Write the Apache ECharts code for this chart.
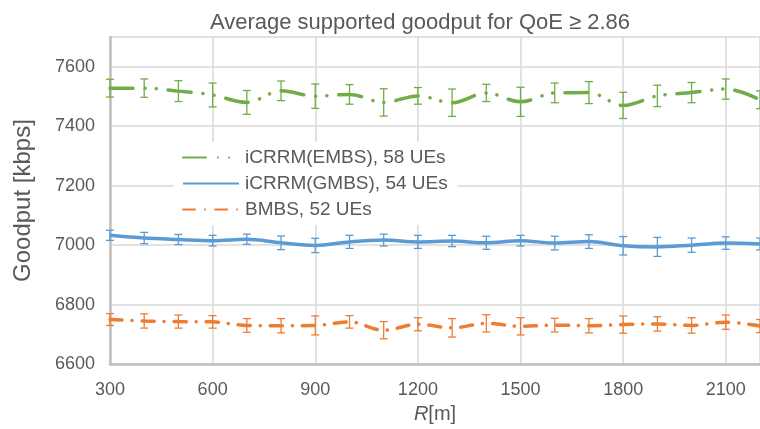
<!DOCTYPE html>
<html>
<head>
<meta charset="utf-8">
<script src="https://cdn.jsdelivr.net/npm/echarts@6/dist/echarts.min.js"></script>
<style>
  html, body { margin: 0; padding: 0; background: #fff; }
  #chart { width: 760px; height: 429px; }
</style>
</head>
<body>
<div id="chart"></div>
<script>
// Cell radius R in metres
const distances = [300, 400, 500, 600, 700, 800, 900, 1000, 1100, 1200, 1300, 1400, 1500, 1600, 1700, 1800, 1900, 2000, 2100, 2200];

// Average goodput [kbps] and its confidence half-width for each scheme
const embsGoodput = [7528, 7528, 7518, 7505, 7480, 7519, 7501, 7507, 7480, 7502, 7479, 7512, 7482, 7512, 7513, 7470, 7502, 7513, 7525, 7489];
const embsError   = [30, 31, 35, 40, 40, 33, 41, 33, 46, 28, 46, 29, 49, 33, 37, 44, 36, 34, 34, 30];

const gmbsGoodput = [7033, 7024, 7019, 7015, 7020, 7008, 6999, 7011, 7017, 7011, 7014, 7008, 7015, 7007, 7012, 6998, 6994, 7000, 7007, 7004];
const gmbsError   = [17, 19, 17, 18, 17, 23, 24, 22, 20, 22, 19, 22, 18, 23, 23, 31, 32, 24, 21, 20];

const bmbsGoodput = [6750, 6745, 6743, 6742, 6730, 6729, 6730, 6742, 6714, 6734, 6722, 6737, 6727, 6731, 6729, 6733, 6735, 6730, 6741, 6728];
const bmbsError   = [20, 24, 22, 21, 23, 24, 32, 21, 29, 22, 31, 29, 29, 23, 24, 29, 24, 26, 24, 22];

const seriesNames = ['iCRRM(EMBS), 58 UEs', 'iCRRM(GMBS), 54 UEs', 'BMBS, 52 UEs'];

const FONT = '"Liberation Sans", Arial, Helvetica, sans-serif';
const TEXT = '#595959';
const GREEN = '#70ad47', BLUE = '#5b9bd5', ORANGE = '#ed7d31';

function pairs(ys) { return distances.map((x, i) => [x, ys[i]]); }
function triples(ys, es) { return distances.map((x, i) => [x, ys[i], es[i]]); }

// Vertical error bar with short caps at both ends
function errorBarSeries(ys, es, color) {
  return {
    type: 'custom',
    data: triples(ys, es),
    encode: { x: 0, y: 1 },
    z: 3,
    silent: true,
    renderItem: function (params, api) {
      const x = api.value(0), y = api.value(1), e = api.value(2);
      const hi = api.coord([x, y + e]);
      const lo = api.coord([x, y - e]);
      const hw = 4;
      const style = { stroke: color, lineWidth: 1.3 };
      return {
        type: 'group',
        children: [
          { type: 'line', shape: { x1: hi[0], y1: hi[1], x2: lo[0], y2: lo[1] }, style: style },
          { type: 'line', shape: { x1: hi[0] - hw, y1: hi[1], x2: hi[0] + hw, y2: hi[1] }, style: style },
          { type: 'line', shape: { x1: lo[0] - hw, y1: lo[1], x2: lo[0] + hw, y2: lo[1] }, style: style }
        ]
      };
    }
  };
}

const plain = v => String(v);

const chart = echarts.init(document.getElementById('chart'), null, { renderer: 'canvas' });

chart.setOption({
  animation: false,
  backgroundColor: '#fff',
  textStyle: { fontFamily: FONT },
  title: {
    text: 'Average supported goodput for QoE \u2265 2.86',
    left: 415,
    textAlign: 'center',
    top: 7,
    textStyle: { fontFamily: FONT, fontSize: 22, fontWeight: 'normal', color: TEXT }
  },
  grid: { left: 110, top: 37, width: 652, height: 330, containLabel: false },
  legend: {
    data: seriesNames,
    orient: 'vertical',
    left: 174,
    top: 142,
    itemWidth: 56,
    itemHeight: 14,
    itemGap: 7,
    padding: [6, 10, 6, 8],
    backgroundColor: '#fff',
    itemStyle: { opacity: 0 },
    textStyle: { fontFamily: FONT, fontSize: 19, color: TEXT, padding: [0, 0, 0, 1] }
  },
  xAxis: {
    type: 'value',
    min: 300,
    max: 2200,
    interval: 300,
    name: '{i|R}[m]',
    nameLocation: 'middle',
    nameGap: 31,
    nameTextStyle: {
      fontFamily: FONT, fontSize: 20, color: TEXT,
      rich: { i: { fontFamily: FONT, fontSize: 20, color: TEXT, fontStyle: 'italic' } }
    },
    axisLine: { show: true, lineStyle: { color: '#bfbfbf', width: 2.5 } },
    axisTick: { show: false },
    axisLabel: { fontSize: 18, color: TEXT, margin: 17, showMaxLabel: false, formatter: plain },
    splitLine: { show: true, lineStyle: { color: '#d9d9d9', width: 1.5 } }
  },
  yAxis: {
    type: 'value',
    min: 6600,
    max: 7700,
    interval: 200,
    name: 'Goodput [kbps]',
    nameLocation: 'middle',
    nameGap: 75,
    nameTextStyle: { fontFamily: FONT, fontSize: 24, color: TEXT },
    axisLine: { show: true, lineStyle: { color: '#bfbfbf', width: 2.5 } },
    axisTick: { show: false },
    axisLabel: { fontSize: 18, color: TEXT, margin: 15, showMaxLabel: false, formatter: plain },
    splitLine: { show: true, lineStyle: { color: '#d9d9d9', width: 1.5 } }
  },
  series: [
    {
      name: seriesNames[0],
      type: 'line',
      data: pairs(embsGoodput),
      smooth: 0.35,
      symbol: 'none',
      z: 4,
      lineStyle: { color: GREEN, width: 3.5, type: [23, 12, 0.1, 11, 0.1, 12], cap: 'round' },
      itemStyle: { color: GREEN }
    },
    {
      name: seriesNames[1],
      type: 'line',
      data: pairs(gmbsGoodput),
      smooth: 0.35,
      symbol: 'none',
      z: 4,
      lineStyle: { color: BLUE, width: 3.5 },
      itemStyle: { color: BLUE }
    },
    {
      name: seriesNames[2],
      type: 'line',
      data: pairs(bmbsGoodput),
      smooth: 0.35,
      symbol: 'none',
      z: 4,
      lineStyle: { color: ORANGE, width: 3.5, type: [12, 10, 0.1, 10], cap: 'round' },
      itemStyle: { color: ORANGE }
    },
    errorBarSeries(embsGoodput, embsError, GREEN),
    errorBarSeries(gmbsGoodput, gmbsError, BLUE),
    errorBarSeries(bmbsGoodput, bmbsError, ORANGE)
  ]
});
</script>
</body>
</html>
